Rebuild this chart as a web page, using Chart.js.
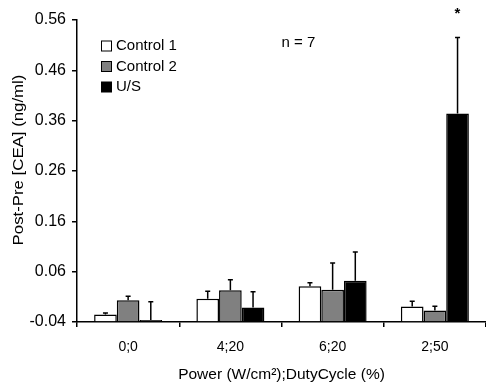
<!DOCTYPE html>
<html>
<head>
<meta charset="utf-8">
<script src="https://cdn.jsdelivr.net/npm/chart.js@4"></script>
<style>
html,body{margin:0;padding:0;background:#fff;}
canvas{display:block;}
</style>
</head>
<body>
<canvas id="c" width="486" height="386"></canvas>
<script>
const categories = ["0;0", "4;20", "6;20", "2;50"];
const control1 = [-0.025, 0.006, 0.031, -0.009];
const control1Err = [0.003, 0.015, 0.007, 0.010];
const control2 = [0.003, 0.023, 0.024, -0.017];
const control2Err = [0.008, 0.021, 0.053, 0.0085];
const us = [-0.036, -0.011, 0.042, 0.374];
const usErr = [0.036, 0.031, 0.057, 0.151];
const yMin = -0.04, yMax = 0.56, yStep = 0.1;
const FONT = "'Liberation Sans', Arial, sans-serif";

const errorBars = {
  id: 'errorBars',
  afterDatasetsDraw(chart) {
    const ctx = chart.ctx;
    const y = chart.scales.y;
    ctx.save();
    ctx.strokeStyle = '#000';
    ctx.lineWidth = 1.5;
    chart.data.datasets.forEach((ds, i) => {
      const meta = chart.getDatasetMeta(i);
      meta.data.forEach((el, j) => {
        const v = ds.data[j], e = ds.errors[j];
        const y0 = y.getPixelForValue(v);
        const y1 = y.getPixelForValue(v + e);
        ctx.beginPath();
        ctx.moveTo(el.x, y0);
        ctx.lineTo(el.x, y1);
        ctx.moveTo(el.x - 2.5, y1);
        ctx.lineTo(el.x + 2.5, y1);
        ctx.stroke();
      });
    });
    ctx.restore();
  }
};

const annotations = {
  id: 'annotations',
  afterDraw(chart) {
    const ctx = chart.ctx;
    ctx.save();
    ctx.fillStyle = '#000';
    // Y axis title
    ctx.font = '15px ' + FONT;
    ctx.textAlign = 'center';
    ctx.textBaseline = 'middle';
    ctx.save();
    ctx.translate(18.5, 160);
    ctx.rotate(-Math.PI / 2);
    ctx.scale(1.12, 1);
    ctx.fillText('Post-Pre [CEA] (ng/ml)', 0, 0);
    ctx.restore();
    // legend
    const items = [
      {label: 'Control 1', color: '#ffffff'},
      {label: 'Control 2', color: '#808080'},
      {label: 'U/S', color: '#000000'}
    ];
    ctx.font = '15px ' + FONT;
    ctx.textAlign = 'left';
    items.forEach((it, k) => {
      const cy = 46 + k * 20.5;
      ctx.fillStyle = it.color;
      ctx.fillRect(101.5, cy - 5, 10, 10);
      ctx.strokeStyle = '#000';
      ctx.lineWidth = 1;
      ctx.strokeRect(101.5, cy - 5, 10, 10);
      ctx.fillStyle = '#000';
      ctx.fillText(it.label, 116, cy);
    });
    // n = 7
    ctx.font = '15px ' + FONT;
    ctx.fillText('n = 7', 281.5, 43);
    // asterisk above U/S at last category
    const meta = chart.getDatasetMeta(2);
    const el = meta.data[3];
    ctx.textAlign = 'center';
    ctx.font = 'bold 15px ' + FONT;
    ctx.fillText('*', el.x, 14);
    ctx.restore();
  }
};

const mk = (label, data, errors, color) => ({
  label, data, errors,
  backgroundColor: color,
  borderColor: '#000',
  borderWidth: 1.5,
  borderSkipped: 'start',
  base: yMin,
  categoryPercentage: 0.665,
  barPercentage: 1.0
});

new Chart(document.getElementById('c'), {
  type: 'bar',
  data: {
    labels: categories,
    datasets: [
      mk('Control 1', control1, control1Err, '#ffffff'),
      mk('Control 2', control2, control2Err, '#808080'),
      mk('U/S', us, usErr, '#000000')
    ]
  },
  options: {
    responsive: false,
    devicePixelRatio: 1,
    animation: false,
    layout: {padding: {top: 20, right: 0, left: 0, bottom: 0}},
    plugins: {legend: {display: false}, tooltip: {enabled: false}},
    scales: {
      x: {
        grid: {display: true, drawOnChartArea: false, offset: true, color: '#000', lineWidth: 1.5, tickLength: 5},
        border: {display: true, color: '#000', width: 1.5},
        ticks: {color: '#000', font: {size: 14, family: FONT}, padding: 12},
        title: {display: true, text: 'Power (W/cm²);DutyCycle (%)', color: '#000', font: {size: 15.5, family: FONT}, padding: {top: 0, bottom: 2}},
        afterFit(s) { s.height = 64; }
      },
      y: {
        min: yMin, max: yMax,
        grid: {display: true, drawOnChartArea: false, color: '#000', lineWidth: 1.5, tickLength: 5},
        border: {display: true, color: '#000', width: 1.5},
        ticks: {
          stepSize: yStep, color: '#000', font: {size: 16, family: FONT}, padding: 6,
          callback: (v) => Number(v).toFixed(2)
        },
        afterFit(s) { s.width = 77; }
      }
    }
  },
  plugins: [errorBars, annotations]
});
</script>
</body>
</html>
